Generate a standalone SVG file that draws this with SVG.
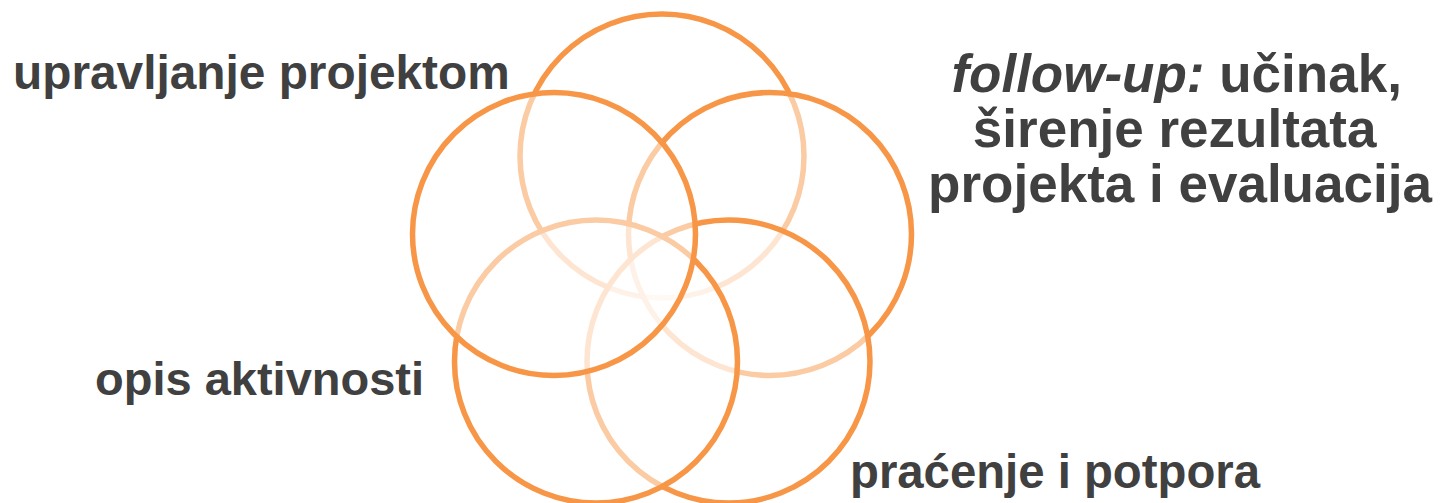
<svg xmlns="http://www.w3.org/2000/svg" width="1441" height="503" viewBox="0 0 1441 503">
<style>
.c{fill:#ffffff;fill-opacity:0.5;stroke:#F79646;stroke-width:5.5}
.t{font-family:"Liberation Sans",Arial,sans-serif;font-weight:bold;fill:#404040}
</style>
<rect width="1441" height="503" fill="#ffffff"/>
<g id="circles">
<g id="c-top"><circle class="c" cx="662" cy="156" r="142"/></g>
<g id="c-right"><circle class="c" cx="770" cy="234" r="141.5"/></g>
<g id="c-bottom-right"><circle class="c" cx="728.5" cy="361.5" r="141.5"/></g>
<g id="c-bottom-left"><circle class="c" cx="596" cy="361.5" r="141.5"/></g>
<g id="c-left"><circle class="c" cx="554" cy="234" r="141.5"/></g>
</g>
<g id="connectors"></g>
<g id="label-upravljanje"><text class="t" x="13" y="89" font-size="47.8">upravljanje projektom</text></g>
<g id="label-followup"><text class="t" font-size="53" text-anchor="middle">
<tspan x="1184" y="92"><tspan font-style="italic">follow-up:</tspan> učinak,</tspan>
<tspan x="1182" y="147">širenje rezultata</tspan>
<tspan x="1180" y="202">projekta i evaluacija</tspan>
</text></g>
<g id="label-opis"><text class="t" x="95" y="395" font-size="47">opis aktivnosti</text></g>
<g id="label-pracenje"><text class="t" x="850" y="488" font-size="47.3">praćenje i potpora</text></g>
</svg>
